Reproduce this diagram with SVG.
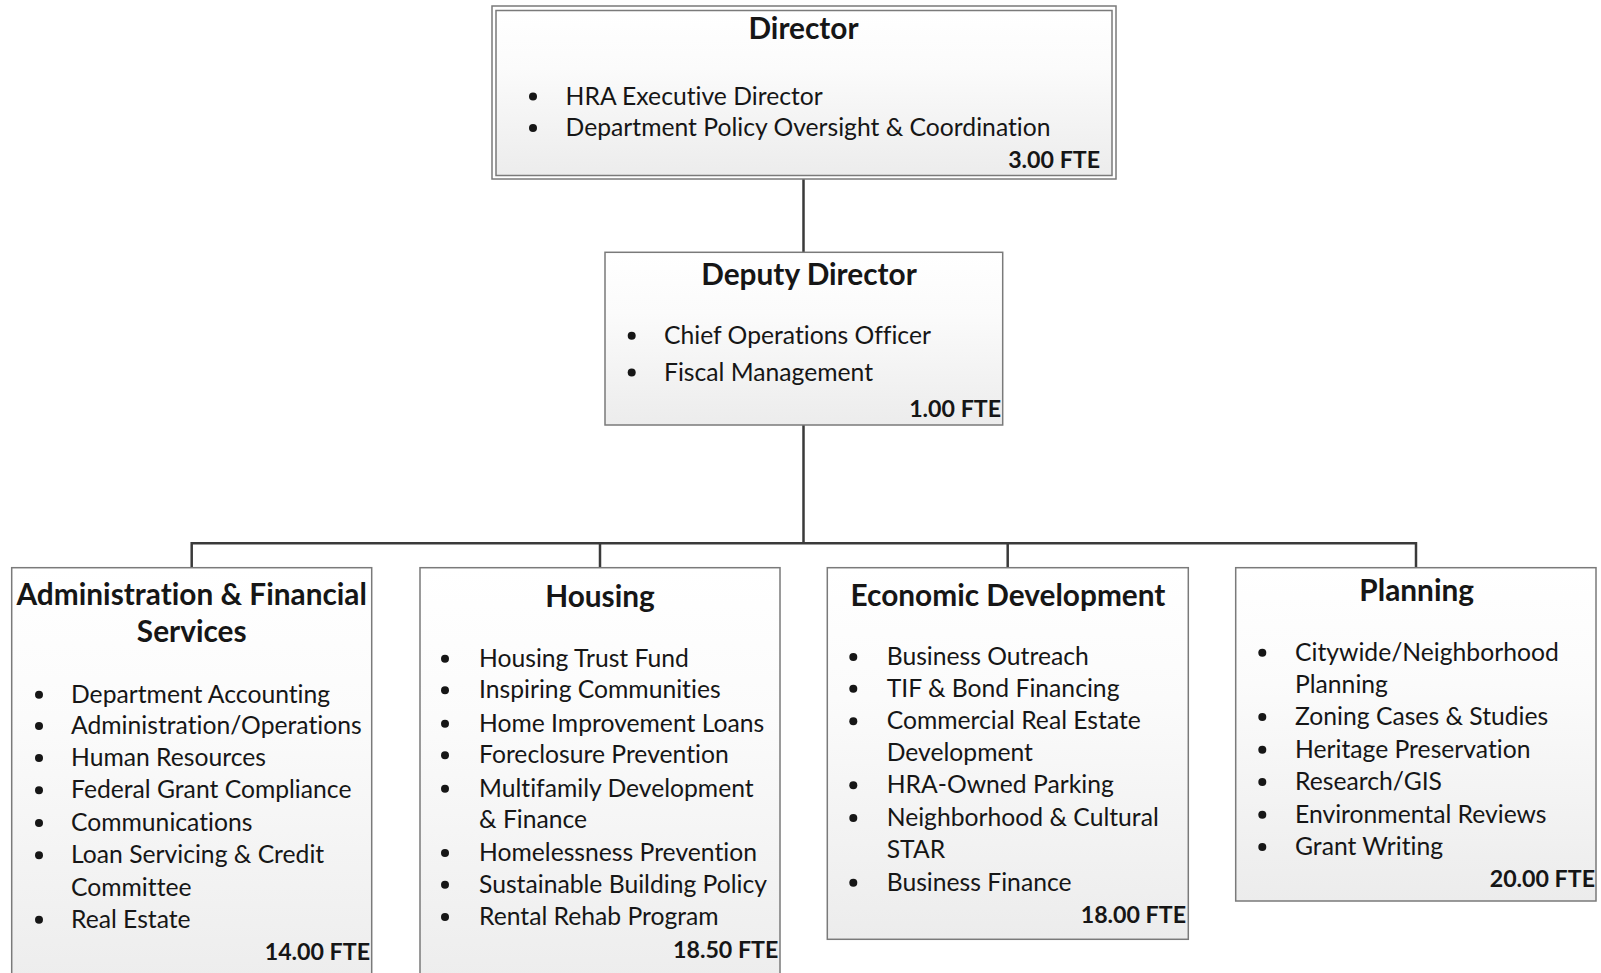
<svg xmlns="http://www.w3.org/2000/svg" width="1601" height="973" viewBox="0 0 1601 973">
<defs>
<linearGradient id="g" x1="0" y1="0" x2="0" y2="1">
<stop offset="0" stop-color="#ffffff"/>
<stop offset="0.35" stop-color="#fbfbfb"/>
<stop offset="1" stop-color="#ececec"/>
</linearGradient>
<style>
.box{fill:url(#g);stroke:#7a7a7a;stroke-width:1.5}
.outer{fill:#ffffff;stroke:#7a7a7a;stroke-width:1.5}
text{font-family:Lato,"Open Sans",sans-serif;fill:#161616;font-variant-ligatures:none;font-feature-settings:"liga" 0,"dlig" 0}
.title{font-size:29.8px;font-weight:bold;text-anchor:middle}
.item{font-size:24.7px}
.fte{font-size:23.2px;font-weight:bold;text-anchor:end}
.bul{fill:#161616}
.conn{stroke:#3a3a3a;stroke-width:2.5;fill:none}
</style>
</defs>
<rect width="1601" height="973" fill="#ffffff"/>
<g id="connectors">
<path class="conn" d="M803.5,179 V252.3"/>
<path class="conn" d="M803.5,425 V543.3"/>
<path class="conn" d="M191.7,543.3 H1416"/>
<path class="conn" d="M191.7,542 V567.7"/>
<path class="conn" d="M600,542 V567.7"/>
<path class="conn" d="M1007.7,542 V567.7"/>
<path class="conn" d="M1416,542 V567.7"/>
</g>
<g id="director">
<rect class="outer" x="492" y="6" width="624" height="173"/>
<rect class="box" x="496" y="10.5" width="616" height="165"/>
<text class="title" x="803.5" y="38.5">Director</text>
<circle class="bul" cx="533" cy="96.5" r="4"/>
<text class="item" x="565.6" y="104.5">HRA Executive Director</text>
<circle class="bul" cx="533" cy="128" r="4"/>
<text class="item" x="565.6" y="136">Department Policy Oversight &amp; Coordination</text>
<text class="fte" x="1100" y="168.3">3.00 FTE</text>
</g>
<g id="deputy">
<rect class="box" x="605" y="252.3" width="397.7" height="172.7"/>
<text class="title" x="809" y="284.5">Deputy Director</text>
<circle class="bul" cx="631.7" cy="335.8" r="4"/>
<text class="item" x="664" y="343.8">Chief Operations Officer</text>
<circle class="bul" cx="631.7" cy="372.5" r="4"/>
<text class="item" x="664" y="380.5">Fiscal Management</text>
<text class="fte" x="1001" y="416.7">1.00 FTE</text>
</g>
<g id="admin">
<rect class="box" x="11.7" y="567.7" width="360" height="430"/>
<text class="title" x="191.7" y="604.5">Administration &amp; Financial</text>
<text class="title" x="191.7" y="642.2">Services</text>
<circle class="bul" cx="39" cy="694.7" r="4"/>
<text class="item" x="71" y="702.7">Department Accounting</text>
<circle class="bul" cx="39" cy="726" r="4"/>
<text class="item" x="71" y="734">Administration/Operations</text>
<circle class="bul" cx="39" cy="758" r="4"/>
<text class="item" x="71" y="766">Human Resources</text>
<circle class="bul" cx="39" cy="790.3" r="4"/>
<text class="item" x="71" y="798.3">Federal Grant Compliance</text>
<circle class="bul" cx="39" cy="823" r="4"/>
<text class="item" x="71" y="831">Communications</text>
<circle class="bul" cx="39" cy="855.3" r="4"/>
<text class="item" x="71" y="863.3">Loan Servicing &amp; Credit</text>
<text class="item" x="71" y="895.7">Committee</text>
<circle class="bul" cx="39" cy="919.7" r="4"/>
<text class="item" x="71" y="927.7">Real Estate</text>
<text class="fte" x="370" y="960">14.00 FTE</text>
</g>
<g id="housing">
<rect class="box" x="420" y="567.7" width="360" height="430"/>
<text class="title" x="600" y="607">Housing</text>
<circle class="bul" cx="445" cy="658.7" r="4"/>
<text class="item" x="479" y="666.7">Housing Trust Fund</text>
<circle class="bul" cx="445" cy="690.3" r="4"/>
<text class="item" x="479" y="698.3">Inspiring Communities</text>
<circle class="bul" cx="445" cy="723.7" r="4"/>
<text class="item" x="479" y="731.7">Home Improvement Loans</text>
<circle class="bul" cx="445" cy="755.3" r="4"/>
<text class="item" x="479" y="763.3">Foreclosure Prevention</text>
<circle class="bul" cx="445" cy="788.7" r="4"/>
<text class="item" x="479" y="796.7">Multifamily Development</text>
<text class="item" x="479" y="828.3">&amp; Finance</text>
<circle class="bul" cx="445" cy="853" r="4"/>
<text class="item" x="479" y="861">Homelessness Prevention</text>
<circle class="bul" cx="445" cy="884.7" r="4"/>
<text class="item" x="479" y="892.7">Sustainable Building Policy</text>
<circle class="bul" cx="445" cy="917" r="4"/>
<text class="item" x="479" y="925">Rental Rehab Program</text>
<text class="fte" x="778.3" y="957.7">18.50 FTE</text>
</g>
<g id="econ">
<rect class="box" x="827.3" y="567.7" width="361" height="371.6"/>
<text class="title" x="1008" y="605.5">Economic Development</text>
<circle class="bul" cx="853.3" cy="657" r="4"/>
<text class="item" x="886.7" y="665">Business Outreach</text>
<circle class="bul" cx="853.3" cy="688.7" r="4"/>
<text class="item" x="886.7" y="696.7">TIF &amp; Bond Financing</text>
<circle class="bul" cx="853.3" cy="721.3" r="4"/>
<text class="item" x="886.7" y="729.3">Commercial Real Estate</text>
<text class="item" x="886.7" y="761">Development</text>
<circle class="bul" cx="853.3" cy="785.3" r="4"/>
<text class="item" x="886.7" y="793.3">HRA-Owned Parking</text>
<circle class="bul" cx="853.3" cy="818" r="4"/>
<text class="item" x="886.7" y="826">Neighborhood &amp; Cultural</text>
<text class="item" x="886.7" y="858.3">STAR</text>
<circle class="bul" cx="853.3" cy="882.7" r="4"/>
<text class="item" x="886.7" y="890.7">Business Finance</text>
<text class="fte" x="1186" y="922.7">18.00 FTE</text>
</g>
<g id="planning">
<rect class="box" x="1235.7" y="567.7" width="360.3" height="333.3"/>
<text class="title" x="1416.7" y="601.2">Planning</text>
<circle class="bul" cx="1262.3" cy="652.7" r="4"/>
<text class="item" x="1295" y="660.7">Citywide/Neighborhood</text>
<text class="item" x="1295" y="693.3">Planning</text>
<circle class="bul" cx="1262.3" cy="717" r="4"/>
<text class="item" x="1295" y="725">Zoning Cases &amp; Studies</text>
<circle class="bul" cx="1262.3" cy="749.7" r="4"/>
<text class="item" x="1295" y="757.7">Heritage Preservation</text>
<circle class="bul" cx="1262.3" cy="782" r="4"/>
<text class="item" x="1295" y="790">Research/GIS</text>
<circle class="bul" cx="1262.3" cy="814.7" r="4"/>
<text class="item" x="1295" y="822.7">Environmental Reviews</text>
<circle class="bul" cx="1262.3" cy="847" r="4"/>
<text class="item" x="1295" y="855">Grant Writing</text>
<text class="fte" x="1595" y="886.7">20.00 FTE</text>
</g>
</svg>
